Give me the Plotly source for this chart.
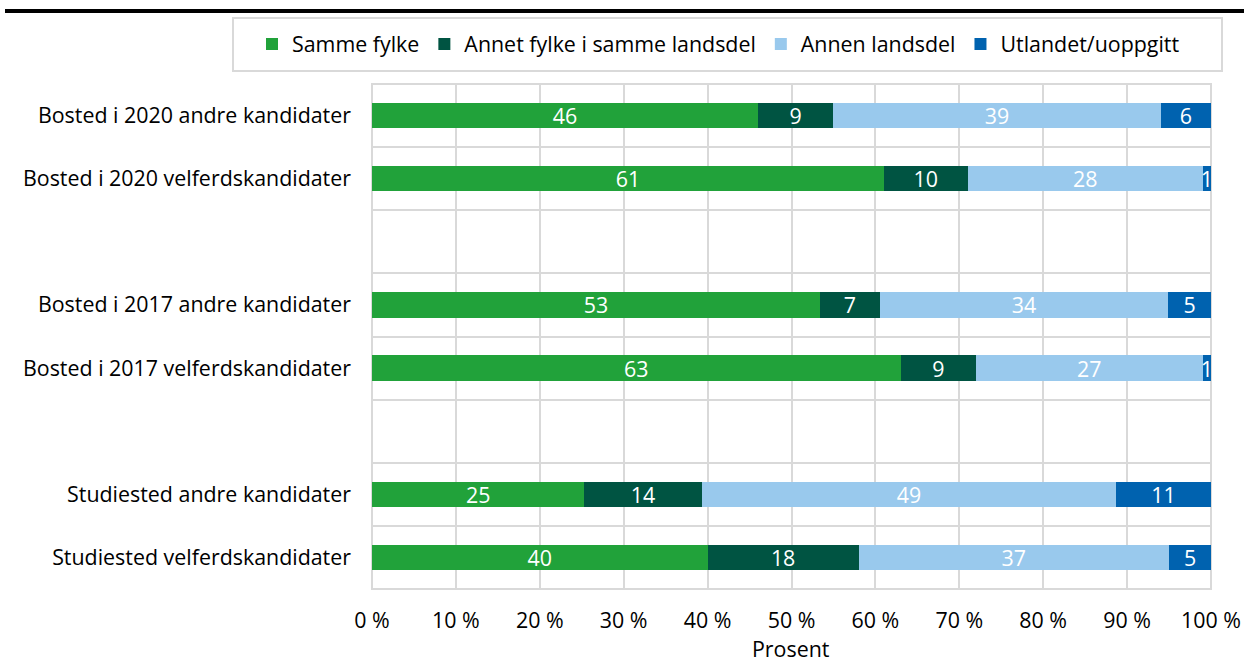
import plotly.graph_objects as go

categories = [
    "Bosted i 2020 andre kandidater",
    "Bosted i 2020 velferdskandidater",
    " ",
    "Bosted i 2017 andre kandidater",
    "Bosted i 2017 velferdskandidater",
    "  ",
    "Studiested andre kandidater",
    "Studiested velferdskandidater",
]
series_names = ["Samme fylke", "Annet fylke i samme landsdel", "Annen landsdel", "Utlandet/uoppgitt"]
samme_fylke = [46, 61, None, 53.4, 63, None, 25.3, 40]
annet_fylke = [9, 10, None, 7.1, 9, None, 14, 18]
annen_landsdel = [39, 28, None, 34.4, 27, None, 49.4, 37]
utlandet = [6, 1, None, 5.1, 1, None, 11.3, 5]
colors = ["#21a23a", "#005442", "#99c9ed", "#0062af"]
x_ticks = [0, 10, 20, 30, 40, 50, 60, 70, 80, 90, 100]
x_ticktext = [f"{v} %" for v in x_ticks]
x_title = "Prosent"

FONT = "Open Sans"
FS = 21.4
fig = go.Figure()
for name, vals, col in zip(series_names, [samme_fylke, annet_fylke, annen_landsdel, utlandet], colors):
    fig.add_trace(go.Bar(
        y=categories, x=vals, name=name, orientation="h",
        marker=dict(color=col, line=dict(width=0)),
        texttemplate="%{x:.0f}", textposition="inside", insidetextanchor="middle",
        textangle=0, constraintext="none",
        textfont=dict(color="white", size=FS, family=FONT),
        hoverinfo="x+name",
    ))

W, H = 1244, 666
ml, mr, mt, mb = 372, 33, 84, 77
pw, ph = W - ml - mr, H - mt - mb

def px_x(p):
    return (p - ml) / pw

def px_y(p):
    return (H - mb - p) / ph

fig.update_layout(
    width=W, height=H,
    barmode="stack", bargap=0.6,
    margin=dict(l=ml, r=mr, t=mt, b=mb, autoexpand=False),
    plot_bgcolor="white", paper_bgcolor="white",
    font=dict(family=FONT, size=FS, color="#000000"),
    showlegend=True,
    legend=dict(
        orientation="h", x=px_x(252), xanchor="left", y=px_y(44), yanchor="middle",
        font=dict(size=FS, family=FONT), bgcolor="rgba(0,0,0,0)", borderwidth=0,
        traceorder="normal", itemwidth=30,
    ),
    xaxis=dict(
        range=[0, 100], tickvals=x_ticks, ticktext=x_ticktext,
        showgrid=True, gridcolor="#d9d9d9", gridwidth=2, automargin=False,
        zeroline=False, showline=False, ticks="", ticklabelstandoff=17,
        tickfont=dict(size=FS, family=FONT),
    ),
    yaxis=dict(
        type="category", categoryorder="array", categoryarray=categories,
        autorange="reversed", tickson="boundaries", automargin=False,
        showgrid=True, gridcolor="#d9d9d9", gridwidth=2,
        ticks="", ticklabelstandoff=20, showline=False, zeroline=False,
        tickfont=dict(size=FS, family=FONT),
    ),
    annotations=[
        dict(text=x_title, xref="paper", yref="paper", x=px_x(791), y=px_y(648),
             xanchor="center", yanchor="middle", showarrow=False, borderpad=0,
             font=dict(size=FS, family=FONT, color="#000000")),
    ],
    shapes=[
        dict(type="rect", xref="paper", yref="paper",
             x0=px_x(233), x1=px_x(1222), y0=px_y(71), y1=px_y(18),
             line=dict(color="#d9d9d9", width=2), fillcolor="rgba(0,0,0,0)", layer="below"),
        dict(type="line", xref="paper", yref="paper",
             x0=px_x(5), x1=px_x(1244), y0=px_y(11), y1=px_y(11),
             line=dict(color="#000000", width=4)),
        dict(type="rect", xref="paper", yref="paper", x0=0, x1=1, y0=0, y1=1,
             line=dict(color="#d9d9d9", width=2), fillcolor="rgba(0,0,0,0)", layer="below"),
    ],
)

fig.write_html("out.html", config={"displayModeBar": False},
               post_script="document.body.style.margin='0';document.body.style.overflow='hidden';")
